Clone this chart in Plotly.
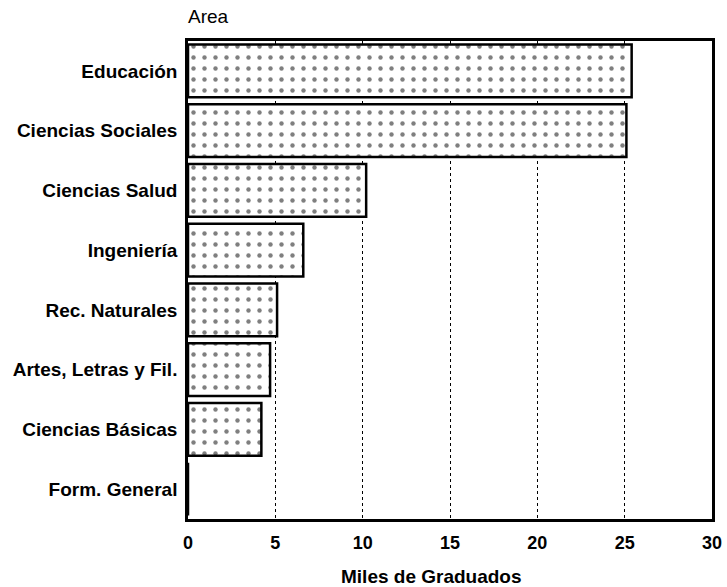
import plotly.graph_objects as go

areas = ["Educación", "Ciencias Sociales", "Ciencias Salud", "Ingeniería",
         "Rec. Naturales", "Artes, Letras y Fil.", "Ciencias Básicas", "Form. General"]
graduados = [25.4, 25.1, 10.2, 6.6, 5.1, 4.7, 4.2, 0.0]

fnt = "Liberation Sans, Arial, sans-serif"

data = [go.Bar(
    x=graduados,
    y=areas,
    orientation="h",
    marker=dict(
        color="white",
        line=dict(color="black", width=2.5),
        pattern=dict(shape=".", fgcolor="black", bgcolor="white", size=11, solidity=0.13),
    ),
)]

layout = go.Layout(
    width=727, height=587,
    margin=dict(l=188, r=15, t=41, b=68),
    plot_bgcolor="white", paper_bgcolor="white",
    bargap=0.12,
    showlegend=False,
    xaxis=dict(
        range=[0, 30], tickvals=[0, 5, 10, 15, 20, 25, 30],
        showgrid=True, gridcolor="black", griddash="dot", gridwidth=1,
        showline=True, linecolor="black", linewidth=2.5, mirror=True,
        zeroline=False, ticks="", ticklabelstandoff=6, automargin=False,
        tickfont=dict(family=fnt, size=18, color="black", weight="bold"),
    ),
    yaxis=dict(
        categoryorder="array", categoryarray=areas, autorange="reversed",
        showline=True, linecolor="black", linewidth=2.5, mirror=True,
        showgrid=False, ticks="", ticklabelstandoff=4, automargin=False,
        tickfont=dict(family=fnt, size=19, color="black", weight="bold"),
    ),
    annotations=[
        dict(text="Area", xref="paper", yref="paper", x=0, y=1,
             xanchor="left", yanchor="bottom", xshift=-2, yshift=12, showarrow=False,
             font=dict(family=fnt, size=19, color="black")),
        dict(text="Miles de Graduados", xref="paper", yref="paper", x=0.465, y=0,
             xanchor="center", yanchor="middle", yshift=-57, showarrow=False,
             font=dict(family=fnt, size=19, color="black", weight="bold")),
    ],
)

fig = go.Figure(data=data, layout=layout)
# drop the default 8px body margin so the figure fills the window exactly
fig.write_html("out.html", config={"displayModeBar": False},
               post_script="document.body.style.margin='0';")
